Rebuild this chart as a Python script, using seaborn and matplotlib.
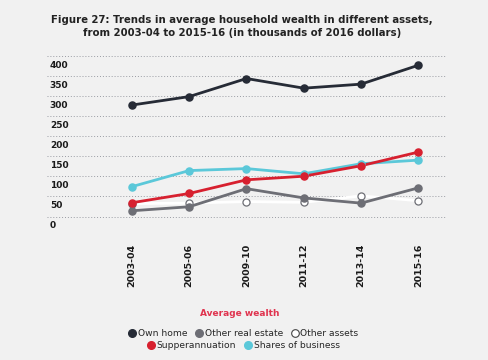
import numpy as np
import pandas as pd
import matplotlib
matplotlib.use("Agg")
import matplotlib.pyplot as plt
import seaborn as sns
from matplotlib.lines import Line2D

years = ["2003-04", "2005-06", "2009-10", "2011-12", "2013-14", "2015-16"]
own_home = [298, 319, 364, 340, 350, 397]
other_real_estate = [35, 45, 90, 67, 54, 92]
other_assets = [53, 54, 58, 56, 72, 60]
superannuation = [55, 78, 112, 121, 147, 181]
shares_business = [95, 135, 140, 127, 152, 161]

y_ticks = [0, 50, 100, 150, 200, 250, 300, 350, 400]

BG = "#f1f1f1"
colors = {
    "Own home": "#262b36",
    "Other real estate": "#6d6e75",
    "Other assets": "#ffffff",
    "Supperannuation": "#d7202f",
    "Shares of business": "#5bc8d9",
}

df = pd.DataFrame({
    "year": years * 5,
    "x": list(range(len(years))) * 5,
    "asset": (["Own home"] * 6 + ["Other real estate"] * 6 + ["Other assets"] * 6
              + ["Supperannuation"] * 6 + ["Shares of business"] * 6),
    "value": own_home + other_real_estate + other_assets + superannuation + shares_business,
})

sns.set_style("white")
plt.rcParams["font.family"] = ["DejaVu Sans"]

fig = plt.figure(figsize=(4.88, 3.6), dpi=100)
fig.patch.set_facecolor(BG)
ax = fig.add_axes([47 / 488, 0.362, 400 / 488, 0.488])
ax.set_facecolor(BG)

# draw order: other assets first so the others sit on top
order = ["Other assets", "Other real estate", "Shares of business", "Supperannuation", "Own home"]
for name in order:
    sub = df[df["asset"] == name]
    sns.lineplot(data=sub, x="x", y="value", ax=ax, color=colors[name], linewidth=2.0,
                 legend=False, zorder=2)
    if name == "Other assets":
        ax.scatter(sub["x"], sub["value"], s=26, facecolor="white", edgecolor="#6d6e75",
                   linewidth=0.9, zorder=3)
    else:
        ax.scatter(sub["x"], sub["value"], s=26, color=colors[name], zorder=3)

ax.set_xlim(-1.48, 5.5)
ax.set_ylim(-12, 425)
ax.set_xticks(range(len(years)))
ax.set_xticklabels(years, rotation=90, fontsize=6.8, fontweight="bold", color="#1a1a1a",
                   va="bottom")
ax.set_yticks(y_ticks)
ax.set_yticklabels([str(t) for t in y_ticks], fontsize=6.5, fontweight="bold", color="#1a1a1a")
ax.tick_params(axis="y", length=0, pad=-2)
ax.tick_params(axis="x", length=0, pad=41)
for t in ax.yaxis.get_major_ticks():
    t.label1.set_horizontalalignment("left")
# gridlines sit a little above the labels in the source
ax.set_yticks([t + 20.6 for t in y_ticks], minor=True)
ax.tick_params(axis="y", which="minor", length=0)
ax.grid(axis="y", which="minor", color="#9a9ca3", linestyle=(0, (1, 2)), linewidth=0.7)
ax.set_xlabel("")
ax.set_ylabel("")
for s in ax.spines.values():
    s.set_visible(False)

fig.text(242 / 488, 1 - 20 / 360, "Figure 27: Trends in average household wealth in different assets,",
         ha="center", va="center", fontsize=7.3, fontweight="bold", color="#222222")
fig.text(242 / 488, 1 - 33 / 360, "from 2003-04 to 2015-16 (in thousands of 2016 dollars)",
         ha="center", va="center", fontsize=7.3, fontweight="bold", color="#222222")
fig.text(240 / 488, 1 - 313 / 360, "Average wealth", ha="center", va="center",
         fontsize=6.5, fontweight="bold", color="#e0344f")

def handle(name):
    if name == "Other assets":
        return Line2D([], [], marker="o", linestyle="", markersize=5.5,
                      markerfacecolor="white", markeredgecolor="#444444", markeredgewidth=0.8)
    return Line2D([], [], marker="o", linestyle="", markersize=5.5, color=colors[name])

row1 = ["Own home", "Other real estate", "Other assets"]
row2 = ["Supperannuation", "Shares of business"]
fig.legend([handle(n) for n in row1], row1, loc="center", ncol=3,
           bbox_to_anchor=(243 / 488, 1 - 334 / 360), frameon=False, fontsize=6.6,
           handletextpad=0.1, columnspacing=0.8, handlelength=1)
fig.legend([handle(n) for n in row2], row2, loc="center", ncol=2,
           bbox_to_anchor=(243 / 488, 1 - 346 / 360), frameon=False, fontsize=6.6,
           handletextpad=0.1, columnspacing=0.8, handlelength=1)

fig.savefig("out.png", dpi=100, facecolor=BG)
